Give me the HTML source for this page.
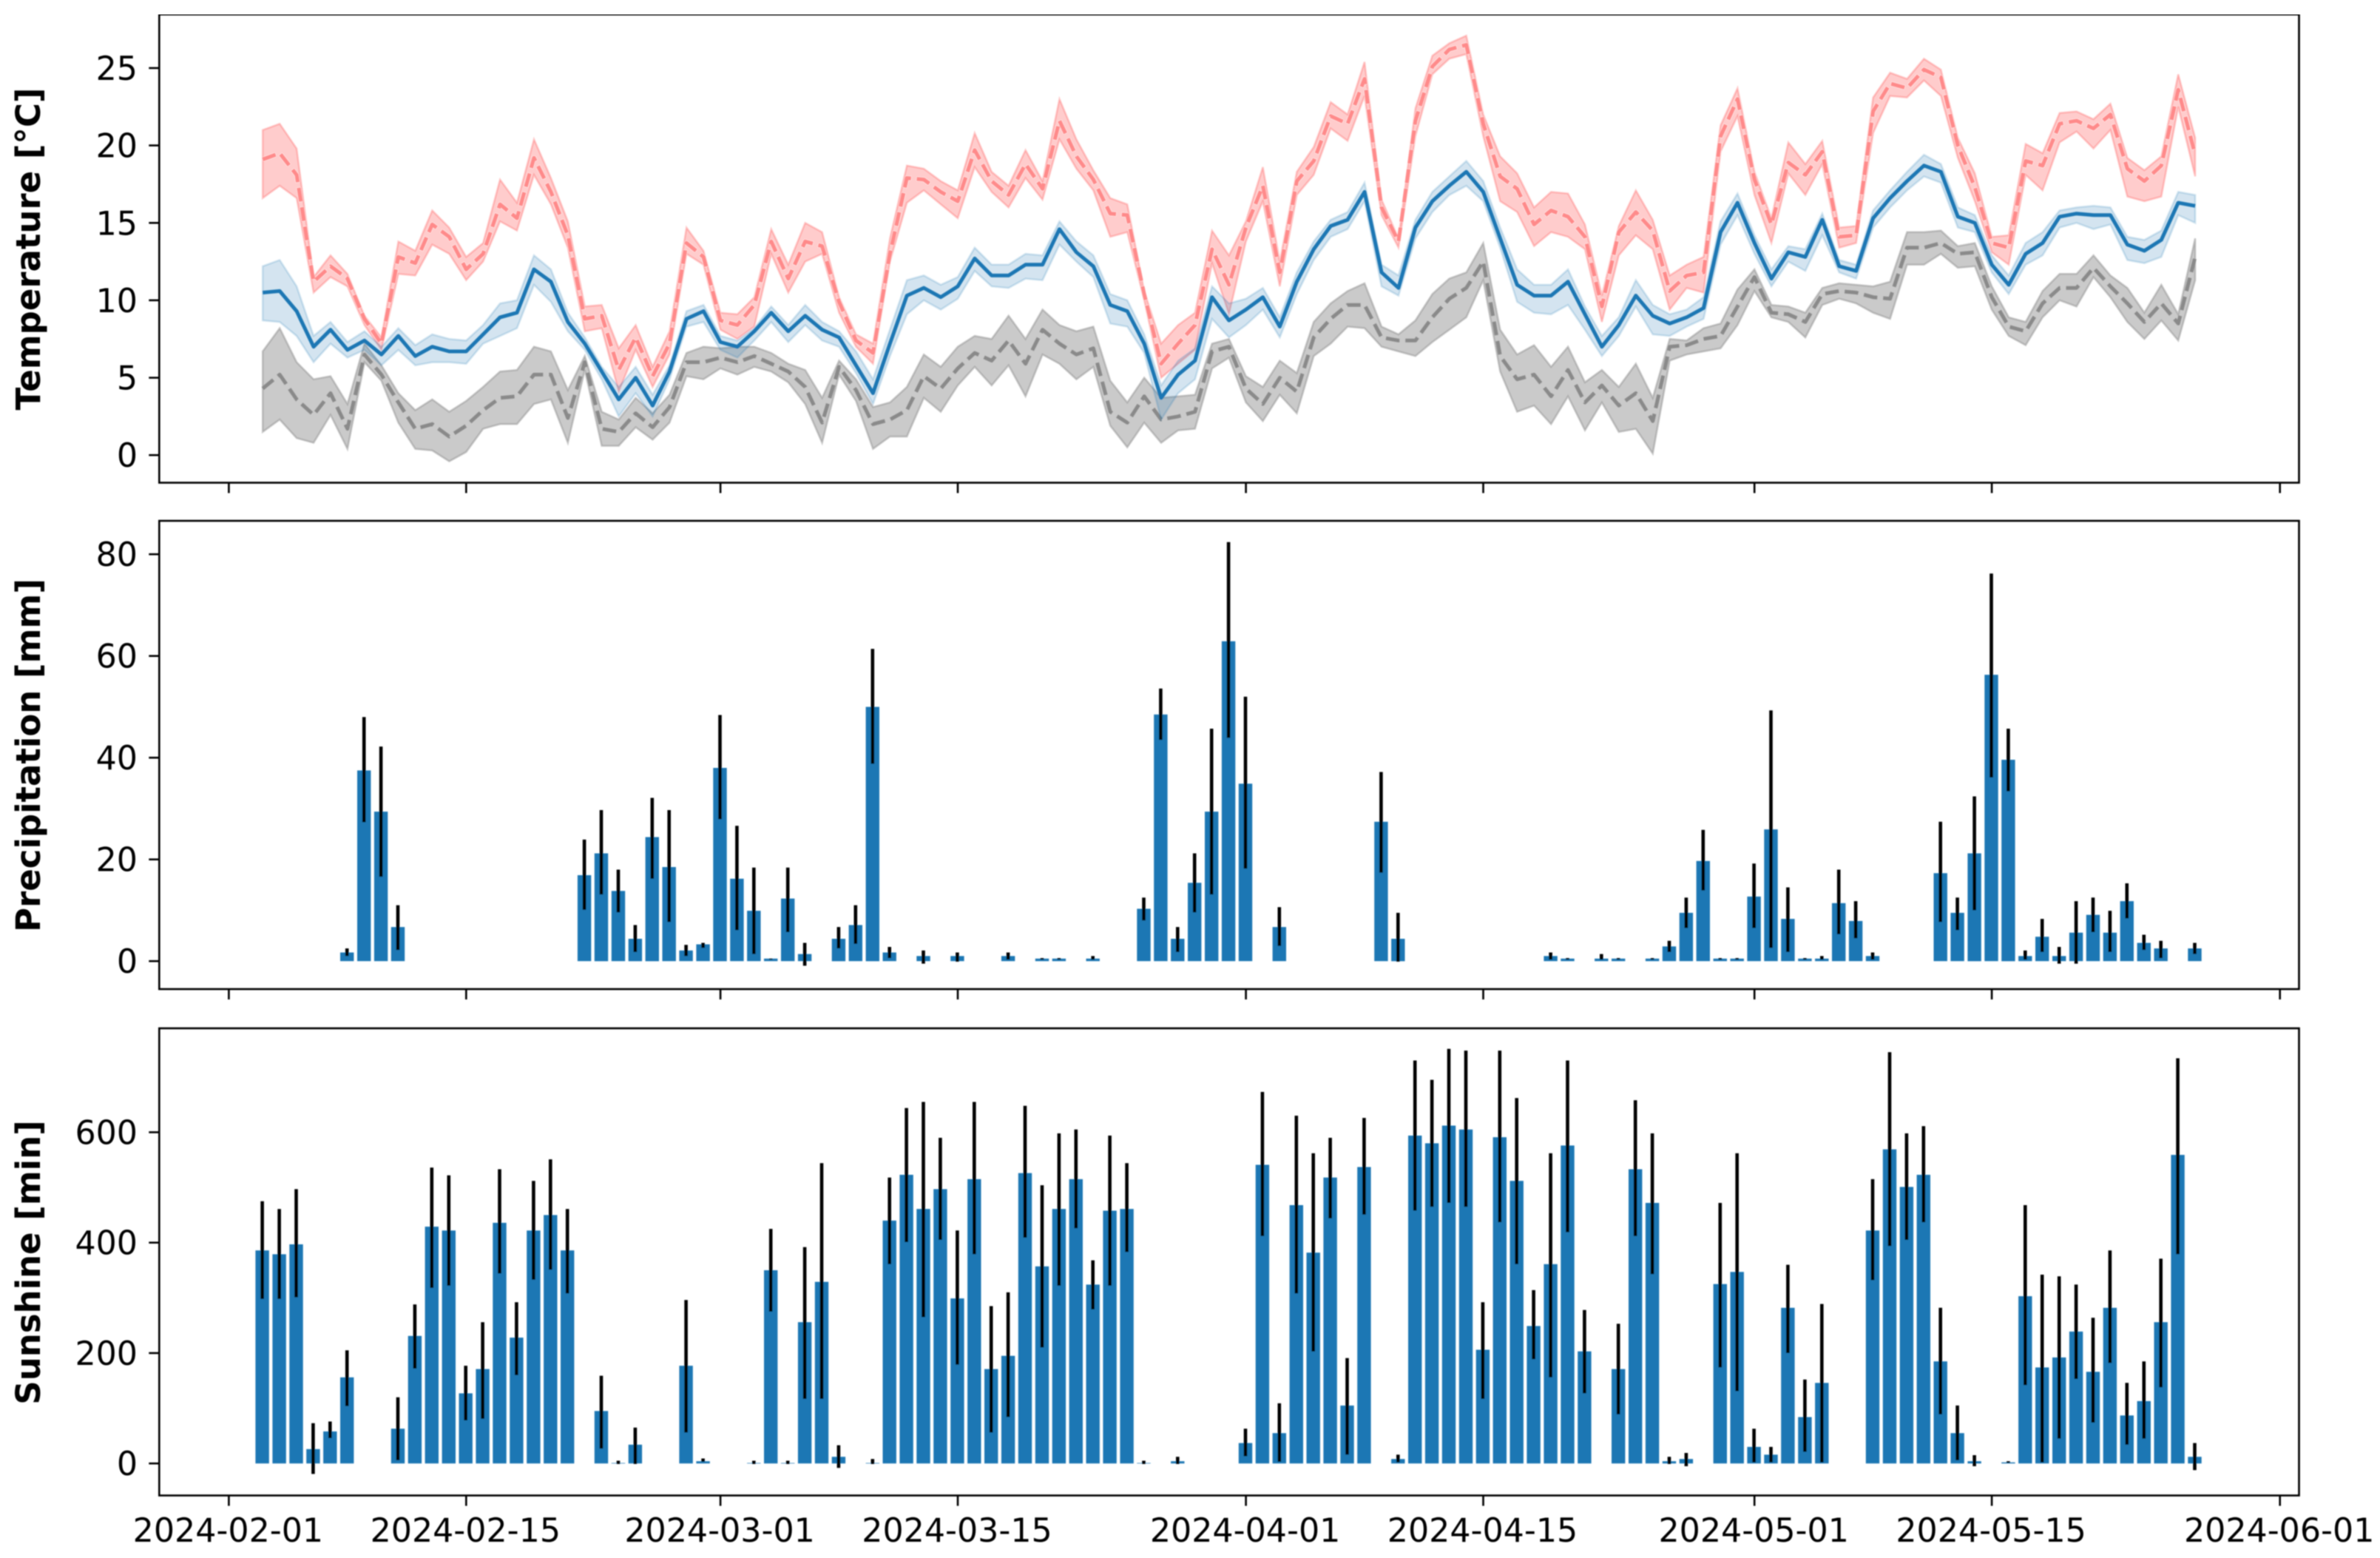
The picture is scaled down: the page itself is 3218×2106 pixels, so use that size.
<!DOCTYPE html>
<html lang="en">
<head>
<meta charset="utf-8">
<title>Weather panels: temperature, precipitation, sunshine</title>
<style>
html,body{margin:0;padding:0;background:#fff;}
svg{display:block;}
text{font-family:"DejaVu Sans","Liberation Sans",sans-serif;fill:#000;}
</style>
</head>
<body>
<svg id="chart" xmlns="http://www.w3.org/2000/svg" width="3218" height="2106" viewBox="0 0 3218 2106">
  <defs>
    <filter id="soft" x="0" y="0" width="100%" height="100%"><feGaussianBlur stdDeviation="0.9"/></filter>
  </defs>
  <rect x="0" y="0" width="3218" height="2106" fill="#fff"/>
  <g filter="url(#soft)">
    <g id="panel-temp"></g>
    <g id="panel-precip"></g>
    <g id="panel-sun"></g>
    <text transform="translate(54,336.5) rotate(-90)" text-anchor="middle" font-size="45" font-weight="bold">Temperature [°C]</text>
    <text transform="translate(54,1021) rotate(-90)" text-anchor="middle" font-size="45" font-weight="bold">Precipitation [mm]</text>
    <text transform="translate(54,1706.5) rotate(-90)" text-anchor="middle" font-size="45" font-weight="bold">Sunshine [min]</text>
  </g>
</svg>
<script>
const _ = null;
const firstDay = '2024-02-03';
const xTickDates = ['2024-02-01','2024-02-15','2024-03-01','2024-03-15','2024-04-01','2024-04-15','2024-05-01','2024-05-15','2024-06-01'];
const tempTicks = [0,5,10,15,20,25];
const precipTicks = [0,20,40,60,80];
const sunTicks = [0,200,400,600];

const tmax = [19.1,19.5,18.1,11.2,12.2,11.4,8.8,7.2,12.8,12.4,
14.9,14.1,12.0,13.0,16.2,15.3,19.2,17.0,14.2,8.8,
9.0,5.5,7.6,5.1,7.2,13.7,12.8,8.7,8.4,9.7,
13.8,11.4,13.8,13.5,9.9,7.4,6.6,13.0,17.9,17.8,
17.0,16.4,19.7,17.7,16.8,18.8,17.2,21.6,19.3,17.8,
15.6,15.5,10.4,5.9,7.2,8.4,13.3,11.0,14.7,17.4,
11.8,17.7,19.0,21.9,21.4,24.3,16.0,13.8,21.6,25.1,
26.2,26.5,21.4,18.0,17.2,14.9,15.8,15.4,14.1,9.6,
14.4,15.7,14.5,10.6,11.6,11.8,20.6,23.0,17.8,14.9,
18.9,18.1,19.6,14.1,14.2,22.2,24.0,23.7,24.9,24.4,
20.0,17.3,13.7,13.4,19.0,18.7,21.4,21.6,21.1,22.0,
18.5,17.7,18.7,23.6,19.4];
const tmaxHigh = [21.0,21.4,19.8,11.5,12.9,11.7,9.0,7.6,13.8,13.2,
15.8,14.7,12.8,13.7,17.8,16.3,20.4,17.9,15.1,9.6,
9.7,6.9,8.4,5.7,8.0,14.7,13.2,9.2,9.1,10.2,
14.6,12.3,15.0,14.4,10.2,7.8,7.2,14.0,18.7,18.5,
17.7,17.1,20.8,18.3,17.4,19.7,17.7,23.0,20.4,18.4,
16.6,16.2,10.6,7.2,8.4,9.2,14.5,12.9,15.1,18.6,
12.5,18.3,19.9,22.8,22.0,25.4,16.5,14.0,22.4,25.8,
26.6,27.1,22.0,19.3,18.2,16.0,17.0,16.9,14.9,10.3,
14.8,17.1,15.2,11.6,12.3,12.8,21.3,23.7,18.3,15.3,
20.2,18.8,20.3,14.7,14.8,23.1,24.7,24.3,25.6,24.9,
20.5,18.2,14.1,14.2,20.1,19.5,22.1,22.2,21.7,22.7,
19.2,18.4,19.3,24.6,20.5];
const tmaxLow = [16.6,17.4,16.6,10.5,11.5,10.9,8.4,6.8,11.7,11.6,
13.6,13.0,11.3,12.5,15.1,14.5,18.1,16.2,13.4,8.0,
8.2,4.1,6.8,4.4,6.5,13.0,12.3,8.1,7.5,8.3,
13.0,10.5,12.5,13.0,9.2,7.0,5.9,12.5,16.3,17.1,
16.2,15.3,18.6,17.0,16.0,17.9,16.5,20.4,18.5,17.1,
14.1,14.4,10.0,5.0,5.9,6.8,12.4,9.1,13.8,16.4,
10.9,16.8,18.1,21.1,20.3,23.2,15.5,13.4,20.6,24.6,
25.6,25.9,20.6,16.4,15.7,13.5,14.4,14.1,13.3,8.6,
12.9,14.2,13.3,9.4,10.8,10.5,19.6,21.9,16.8,13.7,
18.2,16.8,18.8,13.4,13.7,20.8,23.2,23.1,24.2,23.2,
19.2,16.4,13.1,12.3,18.1,17.1,20.2,20.9,19.8,21.0,
16.7,16.4,16.7,22.5,18.0];

const tmean = [10.5,10.6,9.3,7.0,8.1,6.8,7.4,6.5,7.7,6.4,
7.0,6.7,6.7,7.8,8.9,9.2,12.0,11.2,8.6,7.2,
5.4,3.6,5.0,3.2,5.4,8.8,9.3,7.3,7.0,8.0,
9.2,8.0,9.0,8.1,7.6,5.8,4.0,7.2,10.3,10.8,
10.2,10.9,12.7,11.6,11.6,12.3,12.3,14.6,13.1,12.2,
9.7,9.3,7.2,3.7,5.2,6.1,10.2,8.7,9.4,10.2,
8.3,11.2,13.3,14.8,15.2,17.0,11.8,10.8,14.7,16.4,
17.4,18.3,17.0,14.0,11.0,10.3,10.3,11.2,9.1,7.0,
8.4,10.3,9.0,8.5,8.9,9.5,14.4,16.3,13.7,11.4,
13.1,12.8,15.2,12.2,11.9,15.3,16.6,17.7,18.7,18.3,
15.4,15.0,12.3,11.0,13.0,13.7,15.4,15.6,15.5,15.5,
13.6,13.2,13.9,16.3,16.1];
const tmeanHigh = [12.2,12.6,10.9,7.7,8.6,7.3,8.0,7.0,8.2,7.1,
7.8,7.5,7.4,8.4,9.8,10.0,12.9,12.0,9.2,7.6,
5.7,4.4,5.7,3.9,5.8,9.3,9.7,7.7,7.4,8.2,
9.6,8.4,9.7,8.6,8.0,6.7,4.9,8.1,11.3,11.6,
11.0,11.5,13.4,12.3,12.3,13.0,12.9,15.1,13.8,12.9,
10.4,10.0,7.8,4.5,6.1,6.9,10.9,9.8,10.1,10.8,
8.9,11.8,13.8,15.2,15.7,17.6,12.3,11.6,15.2,17.0,
18.0,19.0,17.7,14.7,12.0,11.0,11.0,12.0,9.6,7.7,
8.9,11.3,9.7,9.1,9.4,10.2,15.1,16.9,14.2,12.0,
13.5,13.3,15.6,12.6,12.3,15.8,17.1,18.3,19.4,18.8,
16.0,15.5,12.9,11.6,13.7,14.4,15.8,16.0,16.1,16.0,
14.1,13.9,14.5,17.0,16.8];
const tmeanLow = [8.7,8.6,7.7,6.0,7.2,6.3,6.8,5.8,6.8,5.8,
6.0,6.0,5.9,7.2,7.7,8.2,11.0,9.9,8.0,6.8,
4.9,2.5,4.0,2.5,4.9,8.3,8.6,6.8,6.3,7.4,
8.6,7.3,8.4,7.4,7.0,5.3,3.3,6.4,9.1,10.0,
9.4,10.1,11.9,10.9,10.8,11.4,11.3,13.6,12.5,11.5,
8.5,8.3,6.6,2.3,4.0,4.9,8.8,7.6,8.4,9.4,
7.6,10.4,12.6,14.1,14.6,16.4,10.9,10.3,14.0,15.7,
16.8,17.4,16.4,13.4,9.9,9.2,9.1,9.7,8.1,6.4,
7.7,9.6,7.8,7.7,8.3,8.8,13.6,15.5,13.0,10.9,
12.5,11.9,14.2,11.8,11.4,14.7,16.0,17.1,18.0,17.6,
14.7,14.4,11.8,10.4,12.3,12.9,14.7,15.0,14.6,14.9,
12.6,12.4,12.8,15.5,15.0];

const tmin = [4.3,5.2,3.6,2.6,4.0,1.7,6.5,5.2,3.4,1.7,
2.0,1.2,1.9,2.9,3.7,3.8,5.2,5.2,2.4,6.0,
1.7,1.5,2.7,1.8,3.1,6.0,6.0,6.3,6.0,6.4,
5.9,5.4,4.4,2.1,5.7,4.2,2.0,2.3,2.9,5.1,
4.3,5.6,6.6,6.1,7.4,5.9,8.1,7.2,6.5,6.9,
2.8,2.1,3.8,2.3,2.5,2.8,6.7,7.0,4.3,3.3,
5.0,4.1,7.6,8.8,9.7,9.7,7.6,7.4,7.4,8.9,
10.1,10.8,12.5,6.4,4.9,5.2,3.8,5.5,3.4,4.5,
3.2,4.0,2.2,7.0,7.1,7.5,7.7,9.6,11.5,9.2,
9.1,8.6,10.4,10.6,10.5,10.2,10.1,13.4,13.4,13.7,
13.0,13.1,10.2,8.3,8.0,9.8,10.8,10.8,12.1,10.9,
9.8,8.6,9.8,8.5,12.8];
const tminHigh = [6.7,8.2,6.0,4.9,5.1,3.3,7.2,5.8,4.0,2.9,
3.6,2.8,3.5,4.4,5.4,5.5,7.0,6.7,4.2,6.4,
2.8,2.3,3.7,2.7,3.9,6.6,7.0,6.9,7.0,7.0,
6.6,5.9,5.5,3.7,6.1,4.9,3.1,3.4,4.4,6.5,
5.7,7.0,7.7,7.5,9.0,7.5,9.4,8.4,8.0,8.3,
4.8,3.4,5.0,3.7,3.8,3.9,7.2,7.5,5.1,4.4,
6.1,5.3,8.6,9.8,10.6,11.1,8.3,7.8,8.7,10.4,
11.4,11.8,13.7,8.1,6.5,7.1,5.7,7.0,4.7,5.5,
4.4,5.9,3.7,7.5,7.4,8.2,8.5,10.7,12.0,9.7,
9.6,9.2,10.8,11.1,11.0,10.9,11.2,14.4,14.4,14.5,
13.5,13.7,10.9,8.9,8.6,10.6,11.7,11.7,12.9,11.6,
10.8,9.2,11.0,9.1,14.0];
const tminLow = [1.5,2.3,1.1,0.8,2.6,0.4,6.0,4.8,2.1,0.4,
0.3,-0.4,0.2,1.7,2.0,2.0,3.3,3.6,0.8,5.5,
0.6,0.6,1.8,1.0,2.1,5.1,4.9,5.6,5.2,5.7,
5.4,4.7,3.3,0.8,5.2,3.5,0.4,1.2,1.2,3.7,
2.8,4.5,5.7,4.5,5.8,3.8,6.5,5.9,4.9,5.7,
1.9,0.5,2.1,0.8,1.6,1.7,5.6,6.3,3.4,2.2,
3.9,2.7,6.4,7.2,8.3,8.2,7.0,6.7,6.4,7.3,
8.1,8.9,11.3,5.4,2.8,3.2,2.0,3.8,1.6,3.4,
1.5,1.7,0.1,6.1,6.5,6.7,6.9,8.4,10.6,8.9,
8.6,7.6,9.7,10.1,9.8,9.2,8.8,12.3,12.3,13.0,
12.1,12.2,9.4,7.7,7.1,8.9,10.0,9.6,11.5,10.2,
8.6,7.5,8.7,7.4,11.3];

const precip = [_,_,_,_,_,1.7,37.5,29.4,6.7,_,
_,_,_,_,_,_,_,_,_,16.9,
21.2,13.8,4.4,24.4,18.5,2.1,3.3,38.0,16.2,9.9,
0.5,12.3,1.4,_,4.4,7.1,50.0,1.7,_,1.0,
_,1.0,_,_,1.0,_,0.5,0.5,_,0.5,
_,_,10.3,48.5,4.4,15.4,29.4,62.9,34.9,_,
6.7,_,_,_,_,_,27.4,4.4,_,_,
_,_,_,_,_,_,1.0,0.5,_,0.5,
0.5,_,0.5,2.9,9.5,19.7,0.5,0.5,12.7,25.9,
8.3,0.5,0.5,11.4,7.9,1.0,_,_,_,17.3,
9.5,21.2,56.3,39.6,1.0,4.8,1.0,5.6,9.1,5.6,
11.8,3.6,2.5,_,2.5];
const precipLow = [_,_,_,_,_,1.0,27.3,16.6,2.2,_,
_,_,_,_,_,_,_,_,_,10.1,
13.1,9.6,1.8,16.2,7.7,1.0,2.6,27.9,6.1,1.4,
0.3,5.7,-0.9,_,2.5,3.4,38.8,0.6,_,-0.5,
_,-0.1,_,_,0.3,_,0.3,0.3,_,0.3,
_,_,8.0,43.5,1.8,9.6,13.1,43.9,18.2,_,
3.0,_,_,_,_,_,17.4,-0.1,_,_,
_,_,_,_,_,_,0.3,0.3,_,0.3,
0.3,_,0.3,1.8,6.5,13.9,0.3,0.3,6.5,2.6,
1.8,0.3,0.3,5.3,4.5,0.3,_,_,_,7.7,
6.1,10.0,36.1,33.4,0.3,1.8,-0.5,-0.5,5.7,1.8,
8.4,2.2,0.6,_,1.4];
const precipHigh = [_,_,_,_,_,2.5,48.0,42.2,11.0,_,
_,_,_,_,_,_,_,_,_,23.9,
29.7,18.0,7.1,32.1,29.7,3.2,3.6,48.4,26.6,18.4,
0.5,18.4,3.6,_,6.7,11.0,61.4,2.8,_,2.1,
_,1.7,_,_,1.7,_,0.6,0.6,_,1.0,
_,_,12.5,53.6,6.7,21.2,45.7,82.4,52.0,_,
10.6,_,_,_,_,_,37.2,9.5,_,_,
_,_,_,_,_,_,1.7,0.6,_,1.4,
0.6,_,0.6,4.0,12.5,25.8,0.6,0.6,19.2,49.3,
14.5,0.6,1.0,18.0,11.8,1.7,_,_,_,27.4,
12.5,32.4,76.2,45.7,2.1,8.3,2.8,11.8,12.5,9.9,
15.3,5.2,4.0,_,3.6];

const sunshine = [386,379,397,26,58,156,_,_,63,231,
429,422,127,171,436,228,422,450,386,_,
95,1,34,_,_,177,4,_,_,1,
350,1,256,329,12,_,1,440,523,461,
497,299,515,171,195,526,357,461,515,324,
458,461,1,_,4,_,_,_,37,541,
55,468,382,518,105,537,_,8,594,580,
612,605,206,591,512,249,361,576,203,_,
171,533,472,4,8,_,325,347,30,16,
282,84,146,_,_,422,569,501,523,185,
55,4,_,2,303,174,192,239,166,282,
87,113,256,559,12];
const sunshineLow = [298,298,301,-19,46,104,_,_,6,172,
318,322,78,81,344,160,333,351,308,_,
27,-1,-1,_,_,56,3,_,_,-1,
275,-1,117,117,-8,_,-1,361,401,265,
405,179,379,56,84,409,210,322,426,279,
322,383,-1,_,-1,_,_,_,13,412,
3,308,203,444,16,451,_,2,458,465,
472,465,117,437,361,189,156,419,127,_,
89,412,343,-1,-5,_,174,131,2,2,
200,21,2,_,_,332,394,405,437,89,
6,-5,_,1,142,2,45,153,74,182,
34,45,138,379,-12];
const sunshineHigh = [475,461,497,73,76,205,_,_,120,288,
536,522,177,256,533,292,512,551,461,_,
159,5,65,_,_,296,9,_,_,5,
425,5,392,544,33,_,8,518,644,655,
590,422,655,285,310,648,504,598,605,368,
594,544,5,_,12,_,_,_,63,673,
109,630,562,590,191,626,_,16,730,695,
751,748,292,748,662,314,562,730,278,_,
253,658,598,12,19,_,472,562,63,30,
360,152,289,_,_,515,745,598,611,282,
105,15,_,4,468,342,339,324,264,386,
146,185,371,734,37];

const SVG_NS = 'http://www.w3.org/2000/svg';
const AX_LEFT = 215.3, AX_RIGHT = 3108.5;
const TICK_FONT = 44.3, TICK_LEN = 14, SPINE = 2.6;

function dayIndex(iso) {
  return Date.parse(iso + 'T00:00:00Z') / 86400000;
}
const day0 = dayIndex(xTickDates[0]);
const dayStart = dayIndex(firstDay);
function xAt(dayNumber) {
  return 309.4 + 22.92 * (dayNumber - day0);
}
function xOfIndex(i) {
  return xAt(dayStart + i);
}
function linearY(v0, px0, v1, px1) {
  return function (v) { return px0 + (v - v0) * (px1 - px0) / (v1 - v0); };
}
const yTemp = linearY(0, 615.2, 25, 92);
const yPrecip = linearY(0, 1299.2, 80, 749.2);
const ySun = linearY(0, 1978.2, 600, 1530.5);

function make(tag, attrs, parent) {
  const node = document.createElementNS(SVG_NS, tag);
  for (const key in attrs) node.setAttribute(key, attrs[key]);
  parent.appendChild(node);
  return node;
}
function linePoints(values, y) {
  return values.map(function (v, i) { return xOfIndex(i).toFixed(1) + ',' + y(v).toFixed(1); });
}

function drawBand(parent, name, low, high, color, opacity, y) {
  const pts = linePoints(high, y).concat(linePoints(low, y).reverse());
  const band = make('polygon', {points: pts.join(' '), fill: color, 'fill-opacity': opacity, stroke: color, 'stroke-opacity': opacity, 'stroke-width': 2.5}, parent);
  
  
}
function drawLine(parent, name, values, color, dashed, y) {
  const attrs = {points: linePoints(values, y).join(' '), fill: 'none', stroke: color, 'stroke-width': 5, 'stroke-linejoin': 'round'};
  if (dashed) attrs['stroke-dasharray'] = '18.5 8';
  const line = make('polyline', attrs, parent);
  
  
}
function drawBars(parent, prefix, values, low, high, y) {
  values.forEach(function (v, i) {
    if (v === null) return;
    const cx = xOfIndex(i) - 0.6;
    const top = y(v), base = y(0);
    const bar = make('rect', {x: (cx - 9.2).toFixed(1), y: Math.min(top, base).toFixed(1), width: 18.4, height: Math.abs(base - top).toFixed(1), fill: '#1f77b4'}, parent);
    
    
  });
  values.forEach(function (v, i) {
    if (v === null) return;
    const ex = xOfIndex(i) - 0.6;
    const err = make('line', {x1: ex.toFixed(1), x2: ex.toFixed(1), y1: y(low[i]).toFixed(1), y2: y(high[i]).toFixed(1), stroke: '#000', 'stroke-width': 4.6}, parent);
    
    
  });
}
function drawAxes(parent, prefix, top, bottom, ticks, y, showDates) {
  ticks.forEach(function (t) {
    const py = y(t);
    const mark = make('line', {x1: AX_LEFT - TICK_LEN, x2: AX_LEFT, y1: py.toFixed(1), y2: py.toFixed(1), stroke: '#000', 'stroke-width': SPINE}, parent);
    
    
    const label = make('text', {x: 186, y: (py + 16).toFixed(1), 'text-anchor': 'end', 'font-size': TICK_FONT}, parent);
    label.textContent = String(t);
    
    
  });
  xTickDates.forEach(function (d) {
    const px = xAt(dayIndex(d));
    const mark = make('line', {x1: px.toFixed(1), x2: px.toFixed(1), y1: bottom, y2: bottom + TICK_LEN, stroke: '#000', 'stroke-width': SPINE}, parent);
    
    
    if (showDates) {
      const label = make('text', {x: (px - 1).toFixed(1), y: 2084, 'text-anchor': 'middle', 'font-size': TICK_FONT}, parent);
      label.textContent = d;
      
      
    }
  });
  const frame = make('rect', {x: AX_LEFT, y: top, width: AX_RIGHT - AX_LEFT, height: bottom - top, fill: 'none', stroke: '#000', 'stroke-width': SPINE}, parent);
  
  
}

const panelTemp = document.getElementById('panel-temp');
const panelPrecip = document.getElementById('panel-precip');
const panelSun = document.getElementById('panel-sun');

drawBand(panelTemp, 'tmax', tmaxLow, tmaxHigh, '#ff0000', 0.2, yTemp);
drawLine(panelTemp, 'tmax', tmax, '#ff8a8a', true, yTemp);
drawBand(panelTemp, 'tmin', tminLow, tminHigh, '#808080', 0.42, yTemp);
drawLine(panelTemp, 'tmin', tmin, '#8a8a8a', true, yTemp);
drawBand(panelTemp, 'tmean', tmeanLow, tmeanHigh, '#1f77b4', 0.2, yTemp);
drawLine(panelTemp, 'tmean', tmean, '#1f77b4', false, yTemp);
drawAxes(panelTemp, 'temperature', 19.5, 652.5, tempTicks, yTemp, false);

drawBars(panelPrecip, 'precipitation', precip, precipLow, precipHigh, yPrecip);
drawAxes(panelPrecip, 'precipitation', 704, 1337, precipTicks, yPrecip, false);

drawBars(panelSun, 'sunshine', sunshine, sunshineLow, sunshineHigh, ySun);
drawAxes(panelSun, 'sunshine', 1390, 2021.5, sunTicks, ySun, true);
</script>
</body>
</html>
